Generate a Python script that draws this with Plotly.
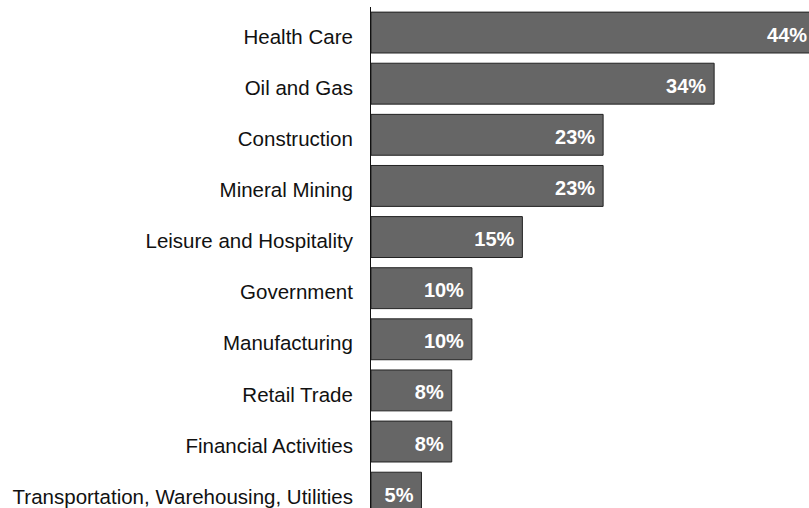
import plotly.graph_objects as go

# Share of workers by industry
industries = [
    "Health Care",
    "Oil and Gas",
    "Construction",
    "Mineral Mining",
    "Leisure and Hospitality",
    "Government",
    "Manufacturing",
    "Retail Trade",
    "Financial Activities",
    "Transportation, Warehousing, Utilities",
]
shares = [44, 34, 23, 23, 15, 10, 10, 8, 8, 5]

FONT = "Liberation Sans, Arial, sans-serif"

# Value axis window and category axis window (reversed: first industry on top)
X_MAX = 43.4
Y_TOP, Y_BOTTOM = -0.5, 9.30
PX_PER_UNIT_X = 438 / X_MAX
PX_PER_UNIT_Y = 501 / (Y_BOTTOM - Y_TOP)
# Value labels end 8px inside the bar and sit 4px below the bar centre
LABEL_INSET = 8 / PX_PER_UNIT_X
LABEL_DROP = 4 / PX_PER_UNIT_Y

fig = go.Figure()
fig.add_trace(
    go.Bar(
        x=shares,
        y=industries,
        orientation="h",
        marker=dict(color="#666666", line=dict(color="#222222", width=1)),
        hoverinfo="skip",
    )
)
# Value labels just inside the end of each bar
fig.add_trace(
    go.Scatter(
        x=shares,
        y=industries,
        xaxis="x2",
        yaxis="y2",
        mode="text",
        text=[f"{v}%" for v in shares],
        textposition="middle left",
        textfont=dict(family=FONT, size=20, color="white", weight="bold"),
        cliponaxis=True,
        hoverinfo="skip",
    )
)

fig.update_layout(
    width=809,
    height=508,
    margin=dict(l=371, r=0, t=7, b=0),
    paper_bgcolor="white",
    plot_bgcolor="white",
    bargap=0.2,
    showlegend=False,
    font=dict(family=FONT, size=20.5, color="#111111"),
    xaxis=dict(
        range=[0, X_MAX],
        visible=False,
        showgrid=False,
        zeroline=False,
    ),
    xaxis2=dict(
        overlaying="x",
        range=[LABEL_INSET, X_MAX + LABEL_INSET],
        visible=False,
    ),
    yaxis=dict(
        type="category",
        categoryorder="array",
        categoryarray=industries,
        range=[Y_BOTTOM, Y_TOP],
        showline=True,
        linecolor="#111111",
        linewidth=1,
        showgrid=False,
        zeroline=False,
        ticks="",
        ticklabelstandoff=13,
        ticklabelshift=-4,
    ),
    yaxis2=dict(
        overlaying="y",
        type="category",
        categoryorder="array",
        categoryarray=industries,
        range=[Y_BOTTOM - LABEL_DROP, Y_TOP - LABEL_DROP],
        visible=False,
    ),
)

fig.write_html("out.html")
